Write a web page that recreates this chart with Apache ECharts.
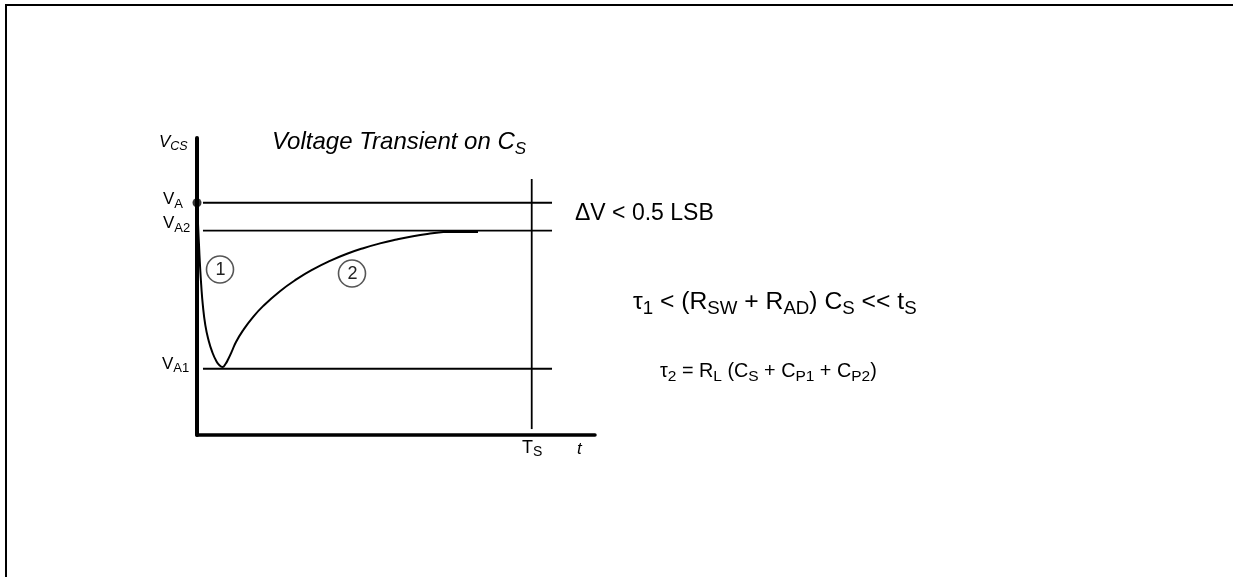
<!DOCTYPE html>
<html><head><meta charset="utf-8">
<script src="https://cdn.jsdelivr.net/npm/echarts@6/dist/echarts.min.js"></script>
<style>html,body{margin:0;padding:0;background:#fff}#c{width:1233px;height:577px}</style>
</head><body><div id="c"></div>
<script>
// ---- data (axis units: time 0..100, voltage 0..100) ----
const curveTime = [0,0.15,0.30,0.50,0.75,1.06,1.46,2.09,2.89,3.84,4.85,5.70,6.41,7.16,7.86,8.67,9.80,11.63,13.82,16.66,20.85,25.05,29.15,33.42,37.69,41.78,45.98,50.18,54.27,58.54,61.88];
const curveVolt = [78.2,74.1,69.7,64.0,57.2,50.5,43.8,37.0,32.0,27.9,24.9,23.4,22.9,23.9,25.6,27.9,31.3,35.35,39.29,43.47,48.42,52.46,55.76,58.62,61.01,62.90,64.51,65.82,66.90,67.81,68.38];
const levelNames = ['VA', 'VA2', 'VA1'];
const levelValues = [78.2, 68.8, 22.3];
const levelSpan = [1.5, 89.2];
const sampleTime = 84.1;          // T_S
const sampleSpan = [2.0, 86.2];
const settleSpan = [61.8, 70.6];
const settleValue = 68.35;
const startPoint = [0, 78.2];

const FONT = '"Liberation Sans", Arial, Helvetica, sans-serif';

function label(x, y, text, fm, fs, d, italic, color) {
  const it = italic ? 'italic ' : '';
  const H = 2 * (d + 0.18 * fs + 0.32 * fm);
  return {
    type: 'text', x: x, y: y, silent: true, z: 10,
    style: {
      text: text, align: 'left', verticalAlign: 'middle', fill: color || '#000',
      rich: {
        m: { font: it + fm + 'px ' + FONT, fill: color || '#000', lineHeight: H },
        s: { font: it + fs + 'px ' + FONT, fill: color || '#000', verticalAlign: 'bottom' }
      }
    }
  };
}
function circled(cx, cy, digit) {
  return [
    { type: 'circle', silent: true, shape: { cx: cx, cy: cy, r: 13.5 }, style: { fill: 'none', stroke: '#555', lineWidth: 1.6 } },
    { type: 'text', silent: true, x: cx + 0.5, y: cy + 0.5, style: { text: digit, font: '18px ' + FONT, fill: '#222', align: 'center', verticalAlign: 'middle' } }
  ];
}

const series = [];
series.push({
  type: 'line', data: curveTime.map((t, i) => [t, curveVolt[i]]), smooth: 0.5, symbol: 'none',
  lineStyle: { color: '#000', width: 2 }, clip: false, silent: true, z: 3
});
levelValues.forEach((v, i) => {
  series.push({ type: 'line', name: levelNames[i], data: [[levelSpan[0], v], [levelSpan[1], v]], symbol: 'none',
    lineStyle: { color: '#000', width: 1.8 }, clip: false, silent: true });
});
series.push({ type: 'line', data: [[sampleTime, sampleSpan[0]], [sampleTime, sampleSpan[1]]], symbol: 'none',
  lineStyle: { color: '#000', width: 1.8 }, clip: false, silent: true });
series.push({ type: 'line', data: [[settleSpan[0], settleValue], [settleSpan[1], settleValue]], symbol: 'none',
  lineStyle: { color: '#000', width: 2.2 }, clip: false, silent: true });
series.push({ type: 'scatter', data: [startPoint], symbol: 'circle', symbolSize: 9,
  itemStyle: { color: '#000' }, clip: false, silent: true, z: 5 });

const graphic = [
  { type: 'line', silent: true, shape: { x1: 5, y1: 5, x2: 1233, y2: 5 }, style: { stroke: '#000', lineWidth: 2 } },
  { type: 'line', silent: true, shape: { x1: 6, y1: 4, x2: 6, y2: 577 }, style: { stroke: '#000', lineWidth: 2 } },
  label(272, 142, '{m|Voltage Transient on C}{s|S}', 24, 17, 5, true),
  label(159, 142, '{m|V}{s|CS}', 17, 12.5, 3, true),
  label(163, 199.5, '{m|V}{s|A}', 17, 13, 3.5, false),
  label(163, 223.5, '{m|V}{s|A2}', 17, 13, 3.5, false),
  label(162, 364, '{m|V}{s|A1}', 17, 13, 3.5, false),
  label(522, 448, '{m|T}{s|S}', 18, 14, 3, false),
  label(577, 449, '{m|t}', 17, 13, 3, true),
  label(575, 214, '{m|\u0394V < 0.5 LSB}', 23, 16, 5, false),
  label(633, 302, '{m|\u03c4}{s|1}{m| < (R}{s|SW}{m| + R}{s|AD}{m|) C}{s|S}{m| << t}{s|S}', 24.7, 18.7, 5, false),
  label(660, 371.5, '{m|\u03c4}{s|2}{m| = R}{s|L}{m| (C}{s|S}{m| + C}{s|P1}{m| + C}{s|P2}{m|)}', 19.8, 15.5, 4, false)
].concat(circled(220, 269.5, '1'), circled(352, 273.5, '2'));

const chart = echarts.init(document.getElementById('c'), null, { renderer: 'canvas' });
chart.setOption({
  animation: false,
  backgroundColor: '#fff',
  grid: { left: 197, top: 138, width: 398, height: 297, containLabel: false, outerBoundsMode: 'none' },
  xAxis: { type: 'value', min: 0, max: 100, axisLine: { show: true, onZero: false, lineStyle: { color: '#000', width: 3.5 } },
    axisTick: { show: false }, axisLabel: { show: false }, splitLine: { show: false } },
  yAxis: { type: 'value', min: 0, max: 100, axisLine: { show: true, onZero: false, lineStyle: { color: '#000', width: 4 } },
    axisTick: { show: false }, axisLabel: { show: false }, splitLine: { show: false } },
  series: series,
  graphic: graphic
});
</script></body></html>
